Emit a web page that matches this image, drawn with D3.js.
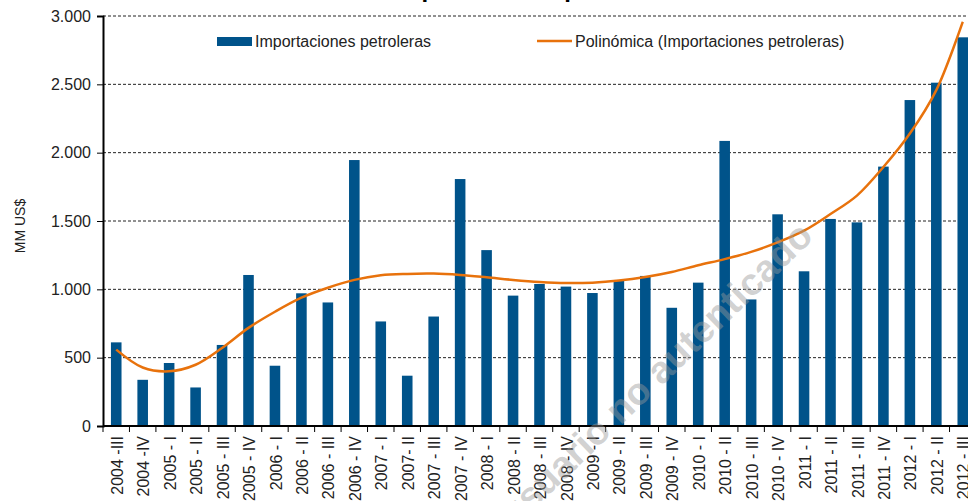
<!DOCTYPE html>
<html>
<head>
<meta charset="utf-8">
<script src="https://cdn.jsdelivr.net/npm/d3@7"></script>
<style>
  body { margin: 0; background: #fff; }
  svg { display: block; font-family: "Liberation Sans", Arial, sans-serif; }
</style>
</head>
<body>
<svg id="chart" width="968" height="501"></svg>
<script>
// data (MM US$)
const trimestres = ["2004 -III", "2004 -IV", "2005 - I", "2005 - II", "2005 - III", "2005 - IV",
    "2006 - I", "2006 - II", "2006 - III", "2006 - IV", "2007 - I", "2007- II", "2007 - III",
    "2007 - IV", "2008 - I", "2008 - II", "2008 - III", "2008 - IV", "2009 - I", "2009 - II",
    "2009 - III", "2009 - IV", "2010 - I", "2010 - II", "2010 - III", "2010 - IV", "2011 - I",
    "2011 - II", "2011 - III", "2011 - IV", "2012 - I", "2012 - II", "2012 - III"];

const importaciones = [612, 338, 461, 282, 593, 1105, 441, 971, 904, 1946, 765, 368, 801,
    1807, 1287, 954, 1039, 1020, 973, 1068, 1098, 865, 1049, 2086, 926, 1549, 1132,
    1515, 1490, 1898, 2385, 2512, 2844];

const tendencia = [559, 428, 400, 448, 571, 718, 836, 939, 1012, 1069, 1103, 1113, 1115,
    1105, 1088, 1069, 1054, 1046, 1049, 1064, 1090, 1127, 1176, 1221, 1274, 1343, 1429,
    1551, 1686, 1895, 2140, 2458, 2958];

const yTicks = [0, 500, 1000, 1500, 2000, 2500, 3000];

const azul = "#00538a", naranja = "#e8720c";

// plot area (the right edge runs past the window, as in the reference)
let margin = {top: 16, left: 103},
    plotW = 873,
    plotH = 410;

const svg = d3.select("#chart");
const g = svg.append("g")
    .attr("transform", "translate(" + margin.left + "," + margin.top + ")");

const x = d3.scaleBand()
    .domain(trimestres)
    .range([0, plotW])
    .paddingInner(0.6)
    .paddingOuter(0.3);

const y = d3.scaleLinear()
    .domain([0, 3000])
    .range([plotH, 0]);

const fmt = v => d3.format(",")(v).replace(/,/g, ".");

// gridlines
g.selectAll(".grid")
    .data(yTicks.filter(d => d > 0))
    .enter().append("line")
    .attr("x1", 0).attr("x2", plotW)
    .attr("y1", d => y(d)).attr("y2", d => y(d))
    .attr("stroke", "#222")
    .attr("stroke-width", 1)
    .attr("stroke-dasharray", "3,2");

// bars
g.selectAll(".bar")
    .data(importaciones)
    .enter().append("rect")
    .attr("x", (d, i) => x(trimestres[i]))
    .attr("width", x.bandwidth())
    .attr("y", d => y(d))
    .attr("height", d => plotH - y(d))
    .attr("fill", azul);

// polynomial trend line
const line = d3.line()
    .x((d, i) => x(trimestres[i]) + x.bandwidth() / 2)
    .y(d => y(d))
    .curve(d3.curveCatmullRom);

g.append("path")
    .datum(tendencia)
    .attr("d", line)
    .attr("fill", "none")
    .attr("stroke", naranja)
    .attr("stroke-width", 2.5);

// y axis
const yAxis = g.append("g")
    .call(d3.axisLeft(y).tickValues(yTicks).tickFormat(fmt).tickSizeOuter(0).tickSize(6).tickPadding(6));
yAxis.select(".domain").attr("stroke", "#000").attr("stroke-width", 2);
yAxis.selectAll("text").attr("font-size", 16).attr("fill", "#222")
    .attr("font-family", "Liberation Sans, Arial, sans-serif");

// x axis: ticks sit at band boundaries
const step = x.step();
const xAxis = g.append("g").attr("transform", "translate(0," + plotH + ")");
xAxis.append("line")
    .attr("x1", 0).attr("x2", plotW)
    .attr("stroke", "#000").attr("stroke-width", 2);
xAxis.selectAll(".tk")
    .data(trimestres)
    .enter().append("line")
    .attr("x1", d => x(d) + x.bandwidth() / 2 - step / 2)
    .attr("x2", d => x(d) + x.bandwidth() / 2 - step / 2)
    .attr("y1", 0).attr("y2", 6)
    .attr("stroke", "#000").attr("stroke-width", 1);
xAxis.selectAll(".lbl")
    .data(trimestres)
    .enter().append("text")
    .attr("transform", d => "translate(" + (x(d) + x.bandwidth() / 2 + 1) + ",10) rotate(-90)")
    .attr("text-anchor", "end")
    .attr("dy", "0.35em")
    .attr("font-size", 16)
    .attr("fill", "#222")
    .text(d => d);

// y axis title
svg.append("text")
    .attr("transform", "translate(25,226) rotate(-90)")
    .attr("text-anchor", "middle")
    .attr("font-size", 14)
    .attr("fill", "#222")
    .text("MM US$");

// chart title, mostly cut off above the window
svg.append("text")
    .attr("x", 537).attr("y", -3)
    .attr("text-anchor", "middle")
    .attr("font-size", 24)
    .attr("font-weight", "bold")
    .attr("fill", "#000")
    .text("Importaciones petroleras");

// legend
const leg = svg.append("g");
leg.append("rect")
    .attr("x", 217).attr("y", 37).attr("width", 35).attr("height", 9)
    .attr("fill", azul);
leg.append("text")
    .attr("x", 255).attr("y", 47)
    .attr("font-size", 16).attr("fill", "#222")
    .text("Importaciones petroleras");
leg.append("line")
    .attr("x1", 537).attr("x2", 572).attr("y1", 41).attr("y2", 41)
    .attr("stroke", naranja).attr("stroke-width", 2.5);
leg.append("text")
    .attr("x", 575).attr("y", 47)
    .attr("font-size", 16).attr("fill", "#222")
    .text("Polinómica (Importaciones petroleras)");

// watermark
svg.append("text")
    .attr("transform", "translate(815,238) rotate(-44)")
    .attr("text-anchor", "end")
    .attr("font-size", 38)
    .attr("font-weight", "bold")
    .attr("fill", "#9a9a9a")
    .attr("fill-opacity", 0.45)
    .text("usuario no autenticado");
</script>
</body>
</html>
